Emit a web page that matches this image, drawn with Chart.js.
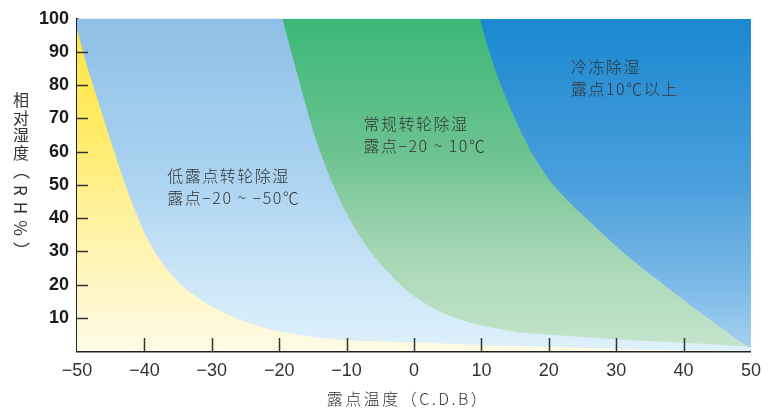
<!DOCTYPE html>
<html><head><meta charset="utf-8">
<script src="https://cdn.jsdelivr.net/npm/chart.js@4.4.1/dist/chart.umd.min.js"></script>
<style>
html,body{margin:0;padding:0;background:#fff;}
#wrap{position:relative;width:770px;height:415px;}
#yt{position:absolute;left:12px;top:92px;writing-mode:vertical-rl;font:16px "Noto Sans CJK SC",sans-serif;color:#333;letter-spacing:1.5px;line-height:18px;}
#yt span{font-size:17px;letter-spacing:6px;}
</style></head><body>
<div id="wrap"><canvas id="c" width="770" height="415"></canvas><div id="yt">相对湿度<span>（RH%）</span></div></div>
<script>
// ---- data ----
const xTickValues = [-50, -40, -30, -20, -10, 0, 10, 20, 30, 40, 50];
const xTickLabels = ['−50', '−40', '−30', '−20', '−10', '0', '10', '20', '30', '40', '50'];
const yTickValues = [10, 20, 30, 40, 50, 60, 70, 80, 90, 100];
const yTickLabels = ['10', '20', '30', '40', '50', '60', '70', '80', '90', '100'];

// boundary of the yellow region
const yellowX = [-50, -48.7, -47.3, -45.6, -44, -42.1, -39.6, -36.2, -31.3, -23.8, -13.9, 0, 10, 20, 30, 40, 50];
const yellowY = [97, 87, 78, 67, 57, 46, 34, 23.5, 15, 8, 4, 2.6, 1.8, 1.2, 0.7, 0.3, 0];
// boundary between light blue (低露点转轮除湿) and green (常规转轮除湿); first points lie above the 100 % top
const lightX = [-50, -20.5, -19.5, -18.2, -16.6, -14.6, -12, -8.5, -4, 0, 5.4, 12.9, 22.8, 32.6, 42.6, 50];
const lightY = [140, 110, 100, 90, 78, 64, 50, 36, 24, 16.5, 10.5, 6.5, 4.5, 3.2, 2.2, 1.2];
// boundary between green (常规转轮除湿) and dark blue (冷冻除湿)
const greenX = [-50, 8.8, 9.8, 11.2, 12.9, 15.2, 17.8, 20.7, 25.8, 31.7, 37.7, 42.6, 50];
const greenY = [140, 110, 100, 90, 80, 69, 58.5, 50, 39.5, 28.5, 19, 11.4, 0.5];
// full top of the chart (冷冻除湿 zone)
const topX = [-50, 50];
const topY = [100, 100];

const zoneNames = ['低露点区', '低露点转轮除湿', '常规转轮除湿', '冷冻除湿'];

const annoTexts = [
  ['低露点转轮除湿', '露点−20 ~ −50℃'],
  ['常规转轮除湿', '露点−20 ~ 10℃'],
  ['冷冻除湿', '露点10℃以上']
];
const annoX = [-36.6, -7.5, 23.3];
const annoY = [52.7, 68.3, 85.5];

const xTitle = '露点温度（C.D.B）';

// ---- helpers ----
const pts = (xs, ys) => xs.map((x, i) => ({x, y: ys[i]}));
function vGrad(stops) {
  return (ctx) => {
    const ch = ctx.chart, a = ch.chartArea;
    if (!a) return stops[0][1];
    const g = ch.ctx.createLinearGradient(0, a.top, 0, a.bottom);
    stops.forEach(([o, c]) => g.addColorStop(o, c));
    return g;
  };
}

const inwardTicks = {
  id: 'inwardTicks',
  afterDraw(chart) {
    const {ctx, chartArea: a, scales: {x, y}} = chart;
    ctx.save();
    ctx.strokeStyle = '#333';
    ctx.lineWidth = 1.5;
    xTickValues.slice(1, -1).forEach(v => {
      const px = Math.round(x.getPixelForValue(v)) + 0.5;
      ctx.beginPath(); ctx.moveTo(px, a.bottom); ctx.lineTo(px, a.bottom - 13); ctx.stroke();
    });
    yTickValues.slice(0, -1).forEach(v => {
      const py = Math.round(y.getPixelForValue(v)) + 0.5;
      ctx.beginPath(); ctx.moveTo(a.left, py); ctx.lineTo(a.left + 11, py); ctx.stroke();
    });
    // x axis title
    ctx.fillStyle = '#333';
    ctx.font = '300 16px "Noto Sans CJK SC", sans-serif';
    try { ctx.letterSpacing = '2.5px'; } catch (e) {}
    ctx.textAlign = 'center';
    ctx.textBaseline = 'middle';
    ctx.fillText(xTitle, (a.left + a.right) / 2 - 6, 399);
    ctx.restore();
  }
};

const annotations = {
  id: 'annotations',
  afterDatasetsDraw(chart) {
    const {ctx, scales: {x, y}} = chart;
    ctx.save();
    ctx.fillStyle = '#333';
    ctx.font = '300 16px "Noto Sans CJK SC", sans-serif';
    try { ctx.letterSpacing = '1.5px'; } catch (e) {}
    ctx.textBaseline = 'middle';
    ctx.textAlign = 'left';
    annoTexts.forEach((lines, i) => {
      const px = x.getPixelForValue(annoX[i]);
      const py = y.getPixelForValue(annoY[i]);
      lines.forEach((t, j) => ctx.fillText(t, px, py + j * 22));
    });
    ctx.restore();
  }
};

const common = {pointRadius: 0, borderWidth: 0, borderColor: 'rgba(0,0,0,0)', fill: 'origin', cubicInterpolationMode: 'monotone'};

new Chart(document.getElementById('c'), {
  type: 'line',
  data: {
    datasets: [
      {...common, label: zoneNames[0], data: pts(yellowX, yellowY),
        backgroundColor: vGrad([[0, '#ffe43a'], [0.35, '#ffeb6a'], [0.65, '#fff3a8'], [0.9, '#fef8d6'], [1, '#fefbe6']])},
      {...common, label: zoneNames[1], data: pts(lightX, lightY),
        backgroundColor: vGrad([[0, '#8ebfe6'], [0.5, '#add4f1'], [0.85, '#d2eaf9'], [1, '#def1fb']])},
      {...common, label: zoneNames[2], data: pts(greenX, greenY),
        backgroundColor: vGrad([[0, '#3bb877'], [0.4, '#6cc290'], [0.7, '#a5d6b4'], [1, '#c6e5cc']])},
      {...common, label: zoneNames[3], data: pts(topX, topY), cubicInterpolationMode: 'default', tension: 0,
        backgroundColor: vGrad([[0, '#1a88cf'], [0.5, '#4b9fdc'], [0.8, '#7cb9e6'], [1, '#a8d2f0']])}
    ]
  },
  options: {
    responsive: false,
    animation: false,
    events: [],
    layout: {padding: {left: 0, right: 19, top: 16, bottom: 0}},
    plugins: {legend: {display: false}, tooltip: {enabled: false}},
    scales: {
      x: {
        type: 'linear', min: -50, max: 50, z: 1,
        afterBuildTicks: s => { s.ticks = xTickValues.map(v => ({value: v})); },
        afterFit: s => { s.height = 64; },
        ticks: {
          autoSkip: false, maxRotation: 0, padding: 9, color: '#333',
          font: {family: '"Liberation Sans", Arial, sans-serif', size: 18},
          callback: v => xTickLabels[xTickValues.indexOf(v)]
        },
        grid: {drawOnChartArea: false, drawTicks: false},
        border: {color: '#222', width: 2.5},
        title: {display: false}
      },
      y: {
        type: 'linear', min: 0, max: 100, z: 1,
        afterBuildTicks: s => { s.ticks = yTickValues.map(v => ({value: v})); },
        afterFit: s => { s.width = 77; },
        ticks: {
          autoSkip: false, padding: 8, color: '#1a1a1a',
          font: {family: '"Liberation Sans", Arial, sans-serif', size: 18, weight: 'bold'},
          callback: v => yTickLabels[yTickValues.indexOf(v)]
        },
        grid: {drawOnChartArea: false, drawTicks: false},
        border: {color: '#222', width: 2.5}
      }
    }
  },
  plugins: [annotations, inwardTicks]
});
</script>
</body></html>
